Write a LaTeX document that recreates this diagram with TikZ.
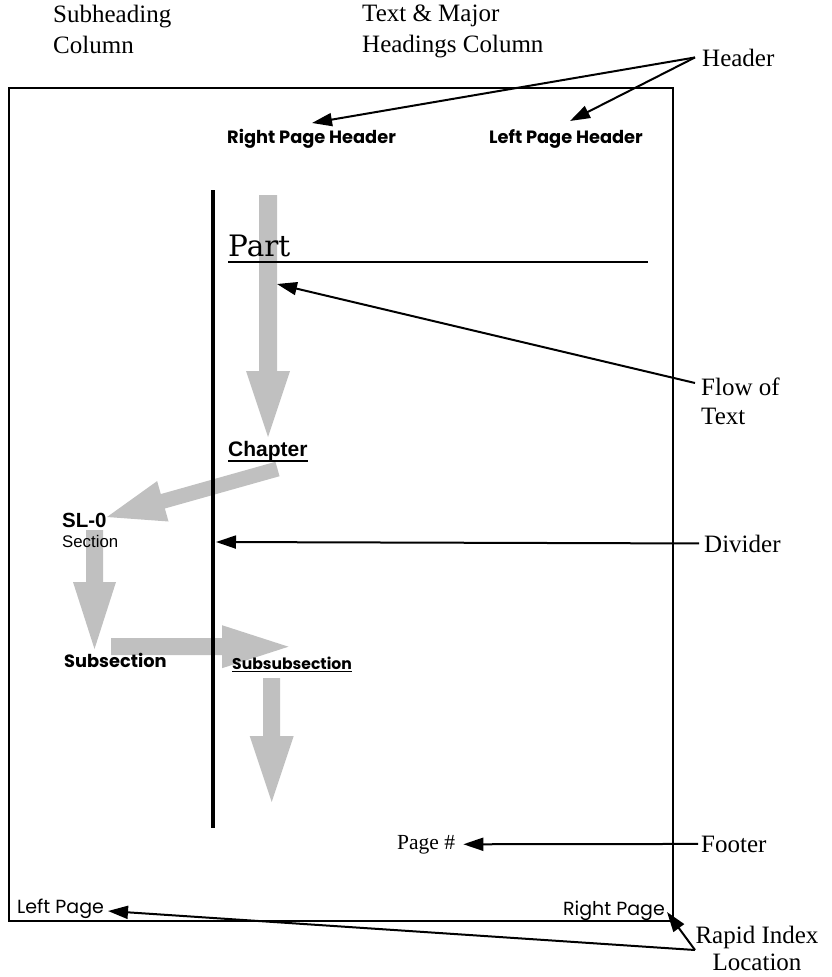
\documentclass[tikz,border=0pt]{standalone}
\usepackage{fontspec}
\setmainfont{Liberation Serif}
\newfontfamily\helv{Liberation Sans}
\newfontfamily\avg{Poppins}
\newfontfamily\schl{DejaVu Serif}
\usetikzlibrary{calc,arrows.meta}
\definecolor{flowgray}{RGB}{192,192,192}
\newcommand\fatarrow[5]{% #1 start, #2 tip, #3 half shaft, #4 head length, #5 half head
  \coordinate (#1-hb) at ($(#2)!#4!(#1)$);
  \fill[flowgray] ($(#1)!#3!90:(#2)$) -- ($(#1-hb)!#3!90:(#2)$) -- ($(#1-hb)!#5!90:(#2)$)
    -- (#2) -- ($(#1-hb)!#5!-90:(#2)$) -- ($(#1-hb)!#3!-90:(#2)$) -- ($(#1)!#3!-90:(#2)$) -- cycle;}
\tikzset{
  tnr/.style={inner sep=0pt, font=\fontsize{25}{31}\selectfont, align=left},
  conn/.style={line width=2pt, -{Triangle[length=20pt,width=13pt]}},
  heavy/.style={line width=2pt},
  avgb/.style={inner sep=0pt, font=\avg\bfseries\fontsize{#1}{#1}\selectfont},
  avgr/.style={inner sep=0pt, font=\avg\fontsize{#1}{#1}\selectfont},
  helvb/.style={inner sep=0pt, font=\helv\bfseries\fontsize{#1}{#1}\selectfont},
  helvr/.style={inner sep=0pt, font=\helv\fontsize{#1}{#1}\selectfont},
  uline/.style={line width=1.5pt}
}
\begin{document}
\begin{tikzpicture}[x=1pt,y=-1pt]
\useasboundingbox (0,0) rectangle (832,977);
% gray flow arrows
\coordinate (f1s) at (268,195);   \coordinate (f1t) at (268,437);
\coordinate (f2s) at (277.5,469); \coordinate (f2t) at (107,517);
\coordinate (f3s) at (94.5,530);  \coordinate (f3t) at (94.5,649);
\coordinate (f4s) at (111,646.7); \coordinate (f4t) at (288.5,646.7);
\coordinate (f5s) at (271.7,678); \coordinate (f5t) at (271.7,802);
\fatarrow{f1s}{f1t}{9pt}{66pt}{22pt}
\fatarrow{f2s}{f2t}{7.5pt}{58pt}{21pt}
\fatarrow{f3s}{f3t}{8.5pt}{67pt}{21.5pt}
\fatarrow{f4s}{f4t}{8.5pt}{66.5pt}{21.5pt}
\fatarrow{f5s}{f5t}{8.5pt}{66pt}{22pt}
% page frame, divider
\draw[heavy] (9,88) rectangle (673,921);
\draw[line width=4pt] (213,190) coordinate (divtop) -- (213,828) coordinate (divbot);
% column titles
\node[tnr, anchor=north west] (subcol) at (53,4.9) {Subheading\\Column};
\node[tnr, anchor=north west] (txtcol) at (362,4.9) {Text \& Major\\Headings Column};
% right-hand labels
\node[tnr, anchor=base west, inner xsep=7pt] (hdr) at (695,66) {Header};
\node[tnr, anchor=north west, font=\fontsize{25}{29}\selectfont] (flow) at (701,378) {Flow of\\Text};
\coordinate (flowpt) at (695,383);
\node[tnr, anchor=base west, inner xsep=5pt] (div) at (699,552) {Divider};
\node[tnr, anchor=base west, inner xsep=3pt] (foot) at (698,852) {Footer};
\node[tnr, anchor=north, align=center, font=\fontsize{25}{27}\selectfont] (rapid) at (757,926) {Rapid Index\\Location};
\coordinate (rapidpt) at (695,950);
% page contents
\node[avgb=17.8, anchor=base west] (rph) at (227,143) {Right Page Header};
\node[avgb=17.8, anchor=base east] (lph) at (643,143) {Left Page Header};
\node[inner sep=0pt, anchor=base west, font=\schl\fontsize{29.5}{29.5}\selectfont] (part) at (228,256) {Part};
\draw[heavy] (part.base west |- 0,262) -- (648,262);
\node[helvb=21, anchor=base west] (chap) at (228,456) {Chapter};
\draw[uline] ([yshift=-5pt]chap.base west) -- ([yshift=-5pt]chap.base east);
\node[helvb=20.5, anchor=base west] (sl0) at (62,527) {SL-0};
\node[helvr=16.8, anchor=base west] (sect) at (62,547) {Section};
\node[avgb=17.8, anchor=base west] (subs) at (64,667) {Subsection};
\node[avgb=15.6, anchor=base west] (subsub) at (232,669) {Subsubsection};
\draw[uline] ([yshift=-2.5pt]subsub.base west) -- ([yshift=-2.5pt]subsub.base east);
\node[inner sep=0pt, inner xsep=8pt, anchor=base west, font=\fontsize{21.5}{21.5}\selectfont] (pnum) at (389,849) {Page \#};
\node[avgr=19, anchor=base west, inner xsep=2pt] (lpage) at (15,913) {Left Page};
\node[avgr=19, anchor=base east] (rpage) at (665,915) {Right Page};
% tips
\coordinate (rphtip) at (312,123);
\coordinate (lphtip) at (570,121);
\coordinate (flowtip) at (277,284);
\coordinate (divtip) at (216,542);
\coordinate (lpagetip) at (108,911);
\coordinate (rpagetip) at (667,912);
% connectors
\draw[conn] (hdr.west) -- (rphtip);
\draw[conn] (hdr.west) -- (lphtip);
\draw[conn] (flowpt) -- (flowtip);
\draw[conn] (div.west) -- (divtip);
\draw[conn] (foot.west) -- (pnum.east);
\draw[conn] (rapidpt) -- (lpagetip);
\draw[conn] (rapidpt) -- (rpagetip);
\end{tikzpicture}
\end{document}
